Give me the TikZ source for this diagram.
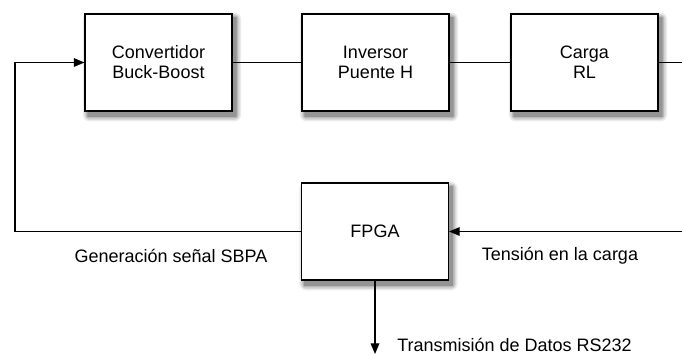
\documentclass[tikz,border=0pt]{standalone}
\usepackage{fontspec}
\setmainfont{Liberation Sans}
\usetikzlibrary{arrows.meta}
\usetikzlibrary{calc}

\pgfdeclarelayer{fondo}
\pgfsetlayers{fondo,main}

\begin{document}
\begin{tikzpicture}[x=0.75pt,y=-0.75pt,
  bloque/.style={draw,line width=1.1pt,fill=white,minimum width=110pt,minimum height=73pt,align=center},
  senal/.style={line width=0.9pt},
  flecha/.style={senal,-{Triangle[length=8pt,width=6.5pt]}},
  rotulo/.style={inner sep=0pt}]
  \useasboundingbox (0,0) rectangle (682,354);
  \fontsize{13.5pt}{15pt}\selectfont
  %fila superior
  \node[bloque] (conv) at (158.5,62.5) {Convertidor\\Buck-Boost};
  \node[bloque] (inv) at (375.5,62.5) {Inversor\\Puente H};
  \node[bloque] (carga) at (584.5,62.5) {Carga\\RL};
  %fpga
  \node[bloque] (fpga) at (375,231.5) {FPGA};
  %sombras difusas
  \begin{pgfonlayer}{fondo}
    \foreach \b in {conv,inv,carga,fpga}{
      \foreach \r/\g in {5/8,3.5/16,2/28,0.5/42}
        \fill[black!\g,rounded corners=\r]
          ($(\b.north west)+(3.5-\r,4.5-\r)$) rectangle ($(\b.south east)+(3.5+\r,4.5+\r)$);
    }
  \end{pgfonlayer}
  %extremos libres
  \coordinate (salida) at (682,62.5);
  \coordinate (medida) at (682,231.5);
  \coordinate (esquina) at (15,231.5);
  \coordinate (datos) at (375,354);
  %conexiones
  \draw[senal] (conv) -- (inv);
  \draw[senal] (inv) -- (carga);
  \draw[senal] (carga) -- (salida);
  \draw[flecha] (medida) -- (fpga);
  \draw[flecha] (fpga.west) -- (esquina) |- (conv.west);
  \draw[flecha] (fpga) -- (datos);
  %rotulos
  \node[rotulo] (sbpa) at (171,256) {Generación señal SBPA};
  \node[rotulo] (tension) at (560,256) {Tensión en la carga};
  \node[rotulo,anchor=west] (rs) at (397,345) {Transmisión de Datos RS232};
\end{tikzpicture}
\end{document}
